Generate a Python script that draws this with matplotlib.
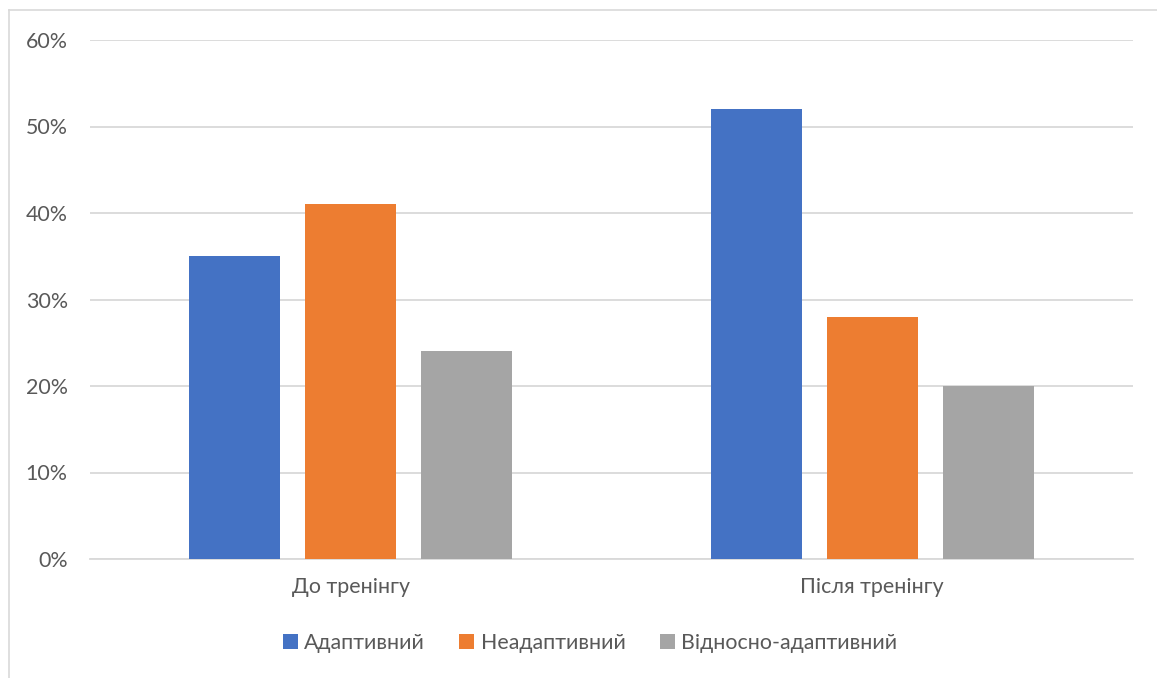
import matplotlib
matplotlib.use("Agg")
import matplotlib.pyplot as plt
from matplotlib.lines import Line2D
from matplotlib.ticker import PercentFormatter

categories = ["До тренінгу", "Після тренінгу"]
series_names = ["Адаптивний", "Неадаптивний", "Відносно-адаптивний"]
adaptive = [35, 52]
non_adaptive = [41, 28]
relative = [24, 20]
y_ticks = [0, 10, 20, 30, 40, 50, 60]

colors = ["#4472C4", "#ED7D31", "#A5A5A5"]
text_color = "#595959"
grid_color = "#D9D9D9"

plt.rcParams["font.family"] = ["Lato", "DejaVu Sans"]

fig = plt.figure(figsize=(11.57, 6.78), dpi=100)
ax = fig.add_axes([90 / 1157, 1 - 559 / 678, (1133 - 90) / 1157, (559 - 40) / 678])

bar_w = 0.1745
step = 0.2224
series = [adaptive, non_adaptive, relative]
for i, (vals, name, col) in enumerate(zip(series, series_names, colors)):
    xs = [c + (i - 1) * step for c in range(len(categories))]
    ax.bar(xs, vals, width=bar_w, color=col, label=name, zorder=3)

ax.set_xlim(-0.5, len(categories) - 0.5)
ax.set_ylim(0, 60)
ax.set_yticks(y_ticks)
ax.yaxis.set_major_formatter(PercentFormatter(decimals=0))
ax.set_xticks(range(len(categories)))
ax.set_xticklabels(categories)
ax.grid(axis="y", color=grid_color, linewidth=1.3, zorder=0)
ax.set_axisbelow(True)
for side in ["top", "right", "left"]:
    ax.spines[side].set_visible(False)
ax.spines["bottom"].set_color(grid_color)
ax.spines["bottom"].set_linewidth(1.3)
ax.tick_params(axis="both", length=0, labelsize=15.4, colors=text_color)
ax.tick_params(axis="y", pad=16)
ax.tick_params(axis="x", pad=13)

leg = fig.legend(loc="center", bbox_to_anchor=(590 / 1157, 1 - 643 / 678), ncol=3,
                 frameon=False, fontsize=15.4, handlelength=0.7, handleheight=0.7,
                 handletextpad=0.3, columnspacing=1.6)
for t in leg.get_texts():
    t.set_color(text_color)

# outer chart frame (left and top edges)
fig.add_artist(Line2D([9 / 1157, 9 / 1157], [0, 1 - 10 / 678], transform=fig.transFigure,
                      color="#D9D9D9", linewidth=1.2))
fig.add_artist(Line2D([9 / 1157, 1], [1 - 10 / 678, 1 - 10 / 678], transform=fig.transFigure,
                      color="#D9D9D9", linewidth=1.2))

fig.savefig("out.png", dpi=100, facecolor="white")
